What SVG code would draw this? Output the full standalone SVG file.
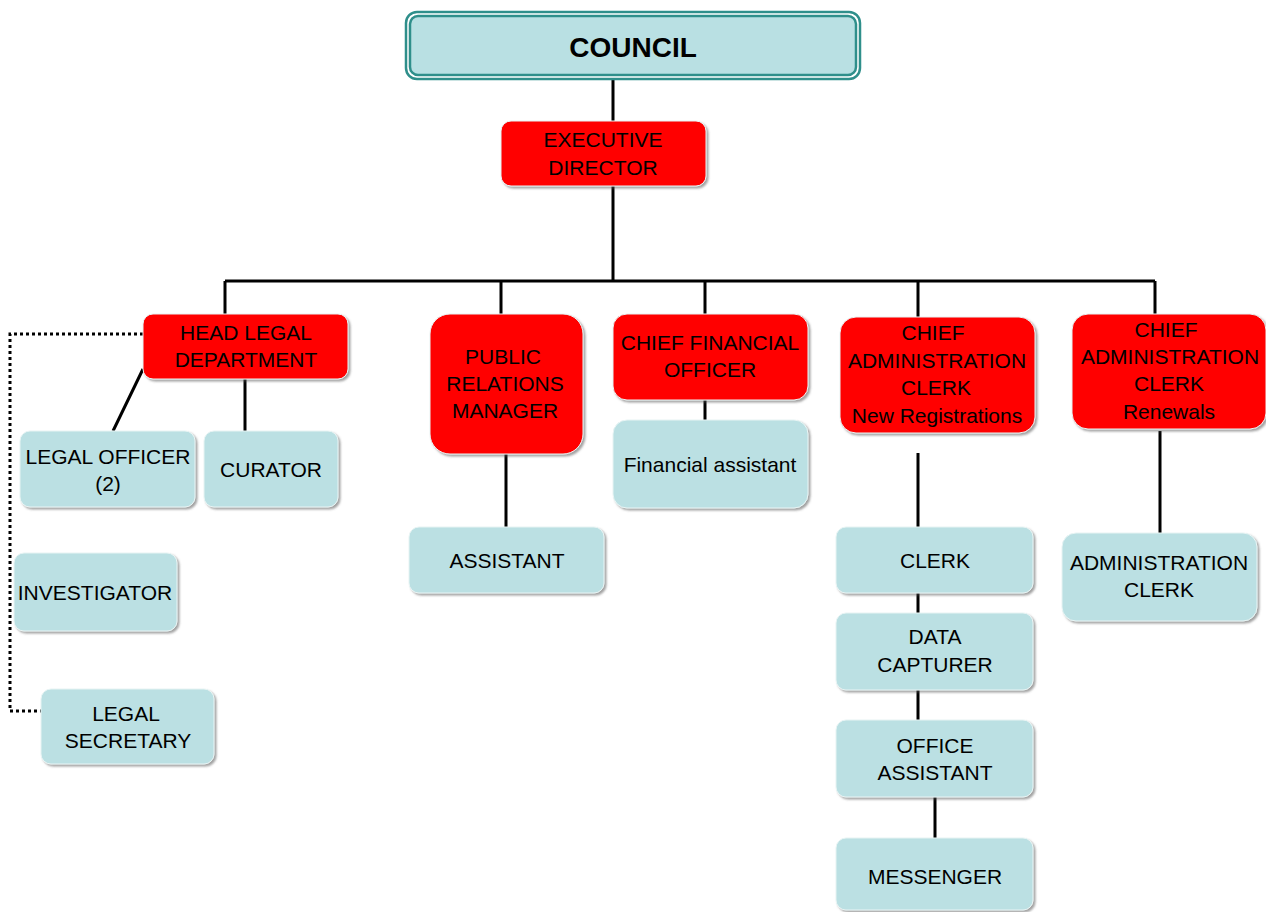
<svg xmlns="http://www.w3.org/2000/svg" width="1266" height="912" viewBox="0 0 1266 912">
<defs>
<filter id="sh" x="-10%" y="-10%" width="125%" height="130%">
<feDropShadow dx="2" dy="2" stdDeviation="1.2" flood-color="#555" flood-opacity="0.55"/>
</filter>
</defs>
<style>
.red{fill:#FF0000;stroke:#e8f4f4;stroke-width:1;filter:url(#sh)}
.blue{fill:#BBE0E3;stroke:#e8f4f4;stroke-width:1;filter:url(#sh)}
text{font-family:"Liberation Sans",Arial,sans-serif;font-size:21px;fill:#000;text-anchor:middle}
.c{fill:none;stroke:#000;stroke-width:3}
.dot{fill:none;stroke:#000;stroke-width:3;stroke-dasharray:3 3}
</style>
<rect width="1266" height="912" fill="#fff"/>
<g id="connectors">
<path class="c" d="M613 80V121M613 186V281M225 281H1155M225 281V314M501 281V314M705 281V314M918 281V318M1155 281V314"/>
<path class="c" d="M143 369L113 431M245 378V431"/>
<path class="dot" d="M143 334H10V711H42"/>
<path class="c" d="M506 454V527M705 400V420M918 453V527M918 593V613M918 690V720M935 797V849M1160 431V533"/>
</g>
<g id="council">
<rect x="406" y="12" width="454" height="67" rx="11" fill="#fff" stroke="#2F8F8B" stroke-width="2.5"/>
<rect x="410" y="16" width="446" height="59" rx="8" fill="#B9E0E3" stroke="#2F8F8B" stroke-width="2.5"/>
<text x="633" y="57" style="font-size:28px;font-weight:bold">COUNCIL</text>
</g>
<g id="executive-director">
<rect class="red" x="501" y="121" width="205" height="65" rx="10"/>
<text x="603" y="147">EXECUTIVE</text>
<text x="603" y="175">DIRECTOR</text>
</g>
<g id="head-legal">
<rect class="red" x="143" y="314" width="205" height="65" rx="10"/>
<text x="246" y="340">HEAD LEGAL</text>
<text x="246" y="367">DEPARTMENT</text>
</g>
<g id="legal-officer">
<rect class="blue" x="20" y="431" width="175" height="76" rx="10"/>
<text x="108" y="464">LEGAL OFFICER</text>
<text x="108" y="491">(2)</text>
</g>
<g id="curator">
<rect class="blue" x="204" y="431" width="134" height="76" rx="10"/>
<text x="271" y="477">CURATOR</text>
</g>
<g id="investigator">
<rect class="blue" x="14" y="553" width="163" height="78" rx="10"/>
<text x="95" y="600">INVESTIGATOR</text>
</g>
<g id="legal-secretary">
<rect class="blue" x="41" y="689" width="173" height="75" rx="10"/>
<text x="126" y="721">LEGAL</text>
<text x="128" y="748">SECRETARY</text>
</g>
<g id="pr-manager">
<rect class="red" x="430" y="314" width="153" height="140" rx="20"/>
<text x="503" y="364">PUBLIC</text>
<text x="505" y="391">RELATIONS</text>
<text x="505" y="418">MANAGER</text>
</g>
<g id="assistant">
<rect class="blue" x="409" y="527" width="195" height="66" rx="10"/>
<text x="507" y="568">ASSISTANT</text>
</g>
<g id="cfo">
<rect class="red" x="613" y="314" width="195" height="86" rx="14"/>
<text x="710" y="350">CHIEF FINANCIAL</text>
<text x="710" y="377">OFFICER</text>
</g>
<g id="financial-assistant">
<rect class="blue" x="613" y="420" width="195" height="88" rx="14"/>
<text x="710" y="472">Financial assistant</text>
</g>
<g id="cac-new">
<rect class="red" x="840" y="317" width="195" height="116" rx="16"/>
<text x="933" y="340">CHIEF</text>
<text x="937" y="368">ADMINISTRATION</text>
<text x="936" y="395">CLERK</text>
<text x="937" y="423">New Registrations</text>
</g>
<g id="clerk">
<rect class="blue" x="836" y="527" width="197" height="66" rx="10"/>
<text x="935" y="568">CLERK</text>
</g>
<g id="data-capturer">
<rect class="blue" x="836" y="613" width="197" height="77" rx="10"/>
<text x="935" y="644">DATA</text>
<text x="935" y="672">CAPTURER</text>
</g>
<g id="office-assistant">
<rect class="blue" x="836" y="720" width="197" height="77" rx="10"/>
<text x="935" y="753">OFFICE</text>
<text x="935" y="780">ASSISTANT</text>
</g>
<g id="messenger">
<rect class="blue" x="836" y="838" width="197" height="72" rx="10"/>
<text x="935" y="884">MESSENGER</text>
</g>
<g id="cac-renewals">
<rect class="red" x="1072" y="314" width="194" height="115" rx="16"/>
<text x="1166" y="337">CHIEF</text>
<text x="1170" y="364">ADMINISTRATION</text>
<text x="1169" y="391">CLERK</text>
<text x="1169" y="419">Renewals</text>
</g>
<g id="admin-clerk">
<rect class="blue" x="1062" y="533" width="195" height="88" rx="14"/>
<text x="1159" y="570">ADMINISTRATION</text>
<text x="1159" y="597">CLERK</text>
</g>
</svg>
